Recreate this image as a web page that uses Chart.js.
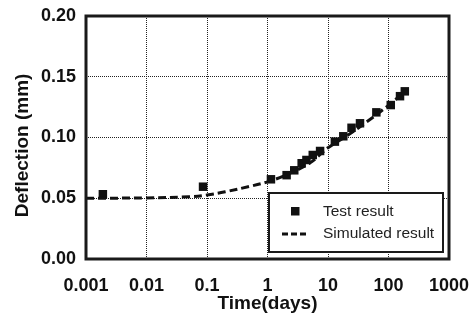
<!DOCTYPE html>
<html>
<head>
<meta charset="utf-8">
<script src="https://cdn.jsdelivr.net/npm/chart.js@4.4.1/dist/chart.umd.min.js"></script>
<style>
  html, body { margin: 0; padding: 0; background: #fff; }
</style>
</head>
<body>
<canvas id="deflChart" width="470" height="323"></canvas>
<script>
// --- data ---
const testTime = [0.0019, 0.086, 1.14, 2.07, 2.77, 3.67, 4.4, 5.6, 7.4, 13, 17.9, 24.5, 33.8, 63, 109, 155, 186];
const testDefl = [0.0533, 0.0595, 0.0656, 0.069, 0.073, 0.0788, 0.0815, 0.0856, 0.0889, 0.0966, 0.101, 0.108, 0.1117, 0.1207, 0.1267, 0.134, 0.138];
const simTime = [0.001, 0.01, 0.05, 0.1, 0.2, 0.5, 1, 2, 5, 10, 20, 50, 100, 200];
const simDefl = [0.050, 0.0503, 0.0512, 0.0527, 0.0553, 0.0597, 0.0635, 0.069, 0.079, 0.0915, 0.101, 0.115, 0.1265, 0.139];
const xTicks = [0.001, 0.01, 0.1, 1, 10, 100, 1000];
const xTickLabels = ["0.001", "0.01", "0.1", "1", "10", "100", "1000"];
const yTicks = [0, 0.05, 0.1, 0.15, 0.2];
const yTickLabels = ["0.00", "0.05", "0.10", "0.15", "0.20"];

const FONT = "'Liberation Sans', Arial, sans-serif";

// frame around the plot area
const framePlugin = {
  id: "frame",
  afterDatasetsDraw(chart) {
    const a = chart.chartArea, ctx = chart.ctx;
    ctx.save();
    ctx.lineWidth = 3;
    ctx.strokeStyle = "#1a1a1a";
    ctx.strokeRect(a.left, a.top, a.right - a.left, a.bottom - a.top);
    ctx.restore();
  }
};

// legend box inside the plot, lower right
const boxLegend = {
  id: "boxLegend",
  afterDraw(chart) {
    const a = chart.chartArea, ctx = chart.ctx;
    const w = 174, h = 59;
    const x0 = a.right - 6 - w, y0 = a.bottom - 7 - h;
    ctx.save();
    ctx.fillStyle = "#fff";
    ctx.fillRect(x0, y0, w, h);
    ctx.lineWidth = 2;
    ctx.strokeStyle = "#1a1a1a";
    ctx.strokeRect(x0, y0, w, h);

    const ds = chart.data.datasets;
    ctx.font = "15.5px " + FONT;
    ctx.textBaseline = "middle";
    // row 1: square marker
    ctx.fillStyle = "#111";
    ctx.fillRect(x0 + 22, y0 + 14, 8.5, 8.5);
    ctx.fillStyle = "#222";
    ctx.fillText(ds[0].label, x0 + 54, y0 + 19);
    // row 2: dashed line
    ctx.strokeStyle = "#111";
    ctx.lineWidth = 3;
    ctx.setLineDash([6, 3]);
    ctx.beginPath();
    ctx.moveTo(x0 + 13, y0 + 41);
    ctx.lineTo(x0 + 39, y0 + 41);
    ctx.stroke();
    ctx.setLineDash([]);
    ctx.fillText(ds[1].label, x0 + 54, y0 + 41);
    ctx.restore();
  }
};

const ctx = document.getElementById("deflChart").getContext("2d");

new Chart(ctx, {
  type: "scatter",
  data: {
    datasets: [
      {
        label: "Test result",
        data: testTime.map((t, i) => ({ x: t, y: testDefl[i] })),
        pointStyle: "rect",
        pointRadius: 6,
        pointBackgroundColor: "#111",
        pointBorderWidth: 0,
        showLine: false,
        order: 2
      },
      {
        label: "Simulated result",
        type: "line",
        data: simTime.map((t, i) => ({ x: t, y: simDefl[i] })),
        borderColor: "#111",
        borderWidth: 3,
        borderDash: [8, 4],
        pointRadius: 0,
        tension: 0.35,
        fill: false,
        order: 1
      }
    ]
  },
  options: {
    responsive: false,
    animation: false,
    layout: { padding: { left: 0, right: 21, top: 16, bottom: 0 } },
    plugins: {
      legend: { display: false },
      tooltip: { enabled: false }
    },
    scales: {
      x: {
        type: "logarithmic",
        min: 0.001,
        max: 1000,
        afterBuildTicks: (s) => { s.ticks = xTicks.map(v => ({ value: v })); },
        afterFit: (s) => { s.height = 64; s.paddingLeft = 0; s.paddingRight = 0; },
        ticks: {
          color: "#111",
          font: { family: FONT, size: 18, weight: "bold" },
          padding: 16,
          maxRotation: 0,
          autoSkip: false,
          callback: (v, i) => xTickLabels[i]
        },
        grid: { color: "#222", lineWidth: 1, drawTicks: false },
        border: { display: false, dash: [1, 1] },
        title: {
          display: true,
          text: "Time(days)",
          color: "#111",
          font: { family: FONT, size: 19, weight: "bold" },
          padding: { top: 0, bottom: 8 }
        }
      },
      y: {
        min: 0,
        max: 0.2,
        afterBuildTicks: (s) => { s.ticks = yTicks.map(v => ({ value: v })); },
        afterFit: (s) => { s.width = 86; s.paddingTop = 0; s.paddingBottom = 0; },
        ticks: {
          color: "#111",
          font: { family: FONT, size: 18, weight: "bold" },
          padding: 10,
          callback: (v, i) => yTickLabels[i]
        },
        grid: { color: "#222", lineWidth: 1, drawTicks: false },
        border: { display: false, dash: [1, 1] },
        title: {
          display: true,
          text: "Deflection (mm)   ",
          color: "#111",
          font: { family: FONT, size: 19, weight: "bold" },
          padding: { top: 11, bottom: 0 }
        }
      }
    }
  },
  plugins: [framePlugin, boxLegend]
});
</script>
</body>
</html>
